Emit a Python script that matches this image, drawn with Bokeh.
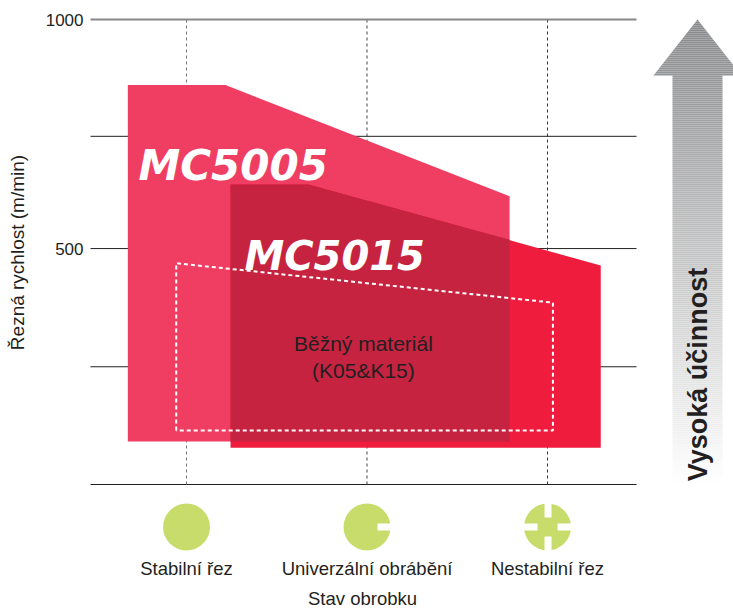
from bokeh.plotting import figure
from bokeh.models import Range1d, FixedTicker
from bokeh.core.properties import value
from bokeh.embed import file_html
from bokeh.resources import INLINE

# --- data ---
categories = ["Stabilní řez", "Univerzální obrábění", "Nestabilní řez"]
cat_pos = [0, 1, 2]
y_labelled = [1000, 500]
y_rules = [745, 500, 242, -15]
y_top, y_bottom = 1000, -15

mc5005_x = [-0.325, -0.325, 0.216, 1.79, 1.79]
mc5005_y = [79, 857, 857, 614, 79]
mc5015_x = [0.244, 0.244, 0.676, 2.295, 2.295]
mc5015_y = [65, 640, 640, 463, 65]
overlap_x = [0.244, 0.244, 0.676, 1.79, 1.79]
overlap_y = [79, 640, 640, 519, 79]
common_x = [-0.057, -0.057, 2.03, 2.03, -0.057]
common_y = [103, 468, 382, 103, 103]

FONT = "Liberation Sans"
TXT = "#231f20"
W, H = 733, 609
PXU = 180.5                # px per category
PYU = 465 / 1015           # px per m/min
X0, X1 = -186 / PXU, (W - 186) / PXU
Y1, Y0 = 1000 + 19 / PYU, 1000 - (H - 19) / PYU

def dx(px):
    return (px - 186) / PXU

def dy(py):
    return 1000 - (py - 19) / PYU

p = figure(width=W, height=H, frame_width=W, frame_height=H,
           output_backend="svg", toolbar_location=None,
           x_range=Range1d(X0, X1), y_range=Range1d(Y0, Y1),
           min_border=0, outline_line_color=None, background_fill_color=None)
p.styles = {"position": "absolute", "left": "0px", "top": "0px"}
p.grid.visible = False

# axes
yax = p.yaxis[0]
yax.fixed_location = dx(90)
yax.ticker = FixedTicker(ticks=y_labelled)
yax.major_label_text_font = FONT
yax.major_label_text_font_size = "17px"
yax.major_label_text_color = TXT
yax.major_label_standoff = 1
yax.axis_line_color = None
yax.major_tick_line_color = None
yax.minor_tick_line_color = None

xax = p.xaxis[0]
xax.fixed_location = y_bottom
xax.ticker = FixedTicker(ticks=cat_pos)
xax.major_label_overrides = dict(zip(cat_pos, categories))
xax.major_label_text_font = FONT
xax.major_label_text_font_size = "18.5px"
xax.major_label_text_color = TXT
xax.major_label_standoff = 67
xax.axis_line_color = None
xax.major_tick_line_color = None
xax.minor_tick_line_color = None

# grid rules
p.segment(x0=[dx(90)] * len(y_rules), x1=[dx(636)] * len(y_rules), y0=y_rules, y1=y_rules,
          line_color=TXT, line_width=1)
p.segment(x0=cat_pos, x1=cat_pos, y0=[y_bottom] * 3, y1=[y_top] * 3,
          line_color=["#777777", "#444444", "#333333"], line_width=1, line_dash="3 3")
p.line([dx(90), dx(636)], [y_top, y_top], line_color="#888888", line_width=2)

# regions
p.patch(mc5005_x, mc5005_y, fill_color="#f03e63", line_color=None)
p.patch(mc5015_x, mc5015_y, fill_color="#ef1c3e", line_color=None)
p.patch(overlap_x, overlap_y, fill_color="#c62340", line_color=None)
p.line(common_x, common_y, line_color="white", line_width=2, line_dash="4 3")

# texts
p.text([-0.266], [681], text=["MC5005"], text_font=value("DejaVu Sans"), text_font_style="bold italic",
       text_font_size="42px", text_color="white", text_baseline="alphabetic")
p.text([0.321], [483], text=["MC5015"], text_font=value("DejaVu Sans"), text_font_style="bold italic",
       text_font_size="40px", text_color="white", text_baseline="alphabetic")
p.text([0.98, 0.98], [293, 234], text=["Běžný materiál", "(K05&K15)"], text_font=value(FONT),
       text_font_size="21px", text_color=TXT, text_align="center", text_baseline="middle")
p.text([dx(17)], [dy(252)], text=["Řezná rychlost (m/min)"], angle=90, angle_units="deg", text_font=value(FONT),
       text_font_size="19px", text_color=TXT, text_align="center", text_baseline="middle")
p.text([dx(362)], [dy(598)], text=["Stav obrobku"], text_font=value(FONT),
       text_font_size="18.5px", text_color=TXT, text_align="center", text_baseline="middle")

# efficiency arrow (vertical gradient)
def grad(y):
    f = (y - 19) / (484 - 19)
    c0 = (0x87, 0x88, 0x8a)
    return "#%02x%02x%02x" % tuple(round(a + (255 - a) * f) for a in c0)

STEP = 2
hx, hy, hc = [], [], []
for y in range(19, 75, STEP):
    y1 = min(y + STEP, 75)
    w0, w1 = (y - 19) / 56 * 44, (y1 - 19) / 56 * 44
    hx.append([dx(697 - w0), dx(697 + w0), dx(697 + w1), dx(697 - w1)])
    hy.append([dy(y), dy(y), dy(y1), dy(y1)])
    hc.append(grad(y))
p.patches(hx, hy, fill_color=hc, line_color=None)
rows = list(range(75, 484, STEP))
p.quad(left=[dx(672)] * len(rows), right=[dx(722)] * len(rows), top=[dy(y) for y in rows],
       bottom=[dy(y + STEP) for y in rows], fill_color=[grad(y) for y in rows], line_color=None)
p.text([dx(697)], [dy(374)], text=["Vysoká účinnost"], angle=90, angle_units="deg", text_font=value(FONT),
       text_font_style="bold", text_font_size="27px", text_color=TXT, text_align="center", text_baseline="middle")

# cutting-condition icons
GREEN = "#c8dc6c"
CY = 526.5
p.scatter(cat_pos, [dy(CY)] * 3, marker="circle", size=47, fill_color=GREEN, line_color=None)
n_l = [377, 544, 544, 523, 557]
n_r = [391, 551, 551, 537, 571]
n_t = [523, 502, 536, 523, 523]
n_b = [530, 517, 551, 530, 530]
p.quad(left=[dx(a) for a in n_l], right=[dx(a) for a in n_r], top=[dy(a) for a in n_t],
       bottom=[dy(a) for a in n_b], fill_color="white", line_color=None)

open("out.html", "w").write(file_html(p, INLINE))
